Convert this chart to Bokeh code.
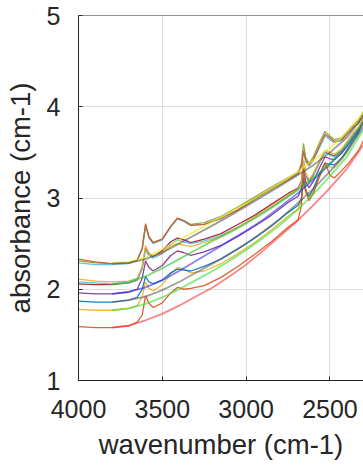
from bokeh.plotting import figure
from bokeh.models import Range1d, FixedTicker, Span
from bokeh.embed import file_html
from bokeh.resources import INLINE

# wavenumber grid of the measured spectra
wn = [4000, 3900, 3800, 3700, 3650, 3620, 3600, 3580, 3555, 3500, 3450, 3410, 3370, 3330,
      3250, 3150, 3050, 2950, 2850, 2750, 2690, 2670, 2658, 2645, 2625, 2600, 2560, 2530,
      2500, 2475, 2430, 2390, 2360, 2330, 2300]

spec_orange_top = [2.33, 2.30, 2.28, 2.29, 2.32, 2.45, 2.72, 2.58, 2.51, 2.55, 2.69, 2.78, 2.75, 2.70,
                   2.71, 2.78, 2.87, 2.99, 3.10, 3.20, 3.27, 3.36, 3.52, 3.42, 3.36, 3.42, 3.58, 3.70,
                   3.66, 3.62, 3.64, 3.72, 3.78, 3.82, 3.92]
spec_cyan_top = [2.29, 2.27, 2.27, 2.28, 2.31, 2.44, 2.70, 2.56, 2.50, 2.54, 2.68, 2.77, 2.74, 2.70,
                 2.71, 2.77, 2.87, 2.98, 3.09, 3.20, 3.26, 3.34, 3.50, 3.40, 3.35, 3.41, 3.56, 3.68,
                 3.64, 3.61, 3.63, 3.71, 3.77, 3.82, 3.92]
spec_green_top = [2.31, 2.29, 2.28, 2.29, 2.32, 2.44, 2.69, 2.57, 2.51, 2.55, 2.69, 2.78, 2.75, 2.71,
                  2.73, 2.80, 2.90, 3.01, 3.12, 3.22, 3.28, 3.38, 3.60, 3.45, 3.38, 3.45, 3.62, 3.73,
                  3.68, 3.64, 3.66, 3.74, 3.80, 3.85, 3.95]
spec_yellow_mid = [2.11, 2.09, 2.08, 2.09, 2.12, 2.25, 2.48, 2.40, 2.37, 2.40, 2.47, 2.50, 2.48, 2.47,
                   2.51, 2.58, 2.68, 2.79, 2.91, 3.03, 3.10, 3.18, 3.42, 3.28, 3.20, 3.27, 3.42, 3.52,
                   3.50, 3.48, 3.54, 3.64, 3.72, 3.78, 3.88]
spec_cyan_mid = [2.08, 2.07, 2.06, 2.07, 2.10, 2.22, 2.44, 2.37, 2.34, 2.39, 2.49, 2.54, 2.52, 2.50,
                 2.53, 2.59, 2.68, 2.79, 2.90, 3.02, 3.09, 3.16, 3.38, 3.24, 3.17, 3.24, 3.40, 3.50,
                 3.47, 3.45, 3.52, 3.62, 3.70, 3.77, 3.87]
spec_darkred_mid = [2.06, 2.05, 2.05, 2.07, 2.10, 2.24, 2.45, 2.38, 2.36, 2.42, 2.52, 2.56, 2.54, 2.51,
                    2.55, 2.61, 2.71, 2.81, 2.93, 3.05, 3.11, 3.19, 3.40, 3.25, 3.18, 3.25, 3.40, 3.50,
                    3.48, 3.46, 3.52, 3.62, 3.70, 3.76, 3.88]
spec_purple = [1.96, 1.95, 1.95, 1.97, 2.00, 2.12, 2.31, 2.24, 2.20, 2.26, 2.37, 2.42, 2.40, 2.37,
               2.41, 2.48, 2.58, 2.69, 2.81, 2.95, 3.02, 3.10, 3.32, 3.18, 3.11, 3.18, 3.34, 3.45,
               3.43, 3.42, 3.49, 3.59, 3.67, 3.74, 3.86]
spec_blue = [1.87, 1.86, 1.86, 1.88, 1.91, 2.00, 2.14, 2.08, 2.06, 2.10, 2.18, 2.22, 2.21, 2.20,
             2.25, 2.33, 2.44, 2.56, 2.69, 2.84, 2.92, 3.00, 3.22, 3.08, 3.02, 3.10, 3.27, 3.38,
             3.37, 3.36, 3.44, 3.55, 3.64, 3.72, 3.85]
spec_yellow_low = [1.78, 1.77, 1.77, 1.79, 1.82, 1.92, 2.08, 2.01, 1.98, 2.05, 2.17, 2.24, 2.22, 2.18,
                   2.20, 2.28, 2.39, 2.51, 2.65, 2.80, 2.88, 2.97, 3.18, 3.05, 2.99, 3.07, 3.24, 3.35,
                   3.34, 3.33, 3.42, 3.53, 3.62, 3.70, 3.84]
spec_orange_low = [1.59, 1.58, 1.58, 1.60, 1.64, 1.72, 1.93, 1.85, 1.80, 1.85, 1.96, 2.02, 2.00, 2.01,
                   2.04, 2.13, 2.25, 2.38, 2.52, 2.68, 2.76, 2.92, 3.33, 3.10, 2.97, 3.05, 3.25, 3.39,
                   3.25, 3.22, 3.30, 3.38, 3.45, 3.52, 3.63]

spectra = [
    (spec_yellow_low, "#EDB120"), (spec_blue, "#0072BD"), (spec_purple, "#7E2F8E"),
    (spec_darkred_mid, "#A2142F"), (spec_cyan_mid, "#4DBEEE"), (spec_yellow_mid, "#EDB120"),
    (spec_orange_low, "#D95319"), (spec_green_top, "#77AC30"), (spec_cyan_top, "#4DBEEE"),
    (spec_orange_top, "#D95319"),
]

# wavenumber grid of the fitted baselines
wn_base = [3800, 3700, 3600, 3500, 3400, 3300, 3200, 3100, 3000, 2900, 2800, 2700, 2600, 2500, 2400, 2300]
base_gray_top = [2.28, 2.29, 2.33, 2.40, 2.50, 2.60, 2.70, 2.80, 2.91, 3.02, 3.13, 3.24, 3.36, 3.50, 3.66, 3.90]
base_yellow_top = [2.29, 2.30, 2.35, 2.44, 2.54, 2.64, 2.74, 2.84, 2.94, 3.05, 3.16, 3.28, 3.41, 3.55, 3.72, 3.94]
base_green_mid = [2.06, 2.08, 2.14, 2.23, 2.33, 2.43, 2.53, 2.62, 2.72, 2.83, 2.95, 3.08, 3.22, 3.38, 3.57, 3.83]
base_blue_mid = [1.95, 1.97, 2.02, 2.10, 2.20, 2.31, 2.42, 2.53, 2.64, 2.76, 2.90, 3.04, 3.20, 3.37, 3.56, 3.82]
base_gray_low = [1.86, 1.88, 1.92, 1.99, 2.08, 2.18, 2.28, 2.39, 2.50, 2.63, 2.77, 2.93, 3.10, 3.29, 3.50, 3.78]
base_green_low = [1.77, 1.79, 1.84, 1.91, 2.00, 2.10, 2.20, 2.31, 2.43, 2.56, 2.70, 2.86, 3.04, 3.24, 3.45, 3.75]
base_red_low = [1.58, 1.60, 1.66, 1.73, 1.82, 1.92, 2.02, 2.14, 2.27, 2.42, 2.58, 2.74, 2.92, 3.11, 3.32, 3.58]

baselines = [
    (base_red_low, "#FF3030"), (base_green_low, "#30E030"), (base_gray_low, "#606060"),
    (base_blue_mid, "#3030FF"), (base_green_mid, "#22C022"), (base_yellow_top, "#E8E820"),
    (base_gray_top, "#5A5A4A"),
]

x_ticks = [4000, 3500, 3000, 2500]
y_ticks = [1, 2, 3, 4, 5]
x_lo, x_hi = 4000, 2300
y_lo, y_hi = 1, 5

FONT = "Liberation Sans"
TXT = "#262626"

p = figure(width=363, height=465, output_backend="svg", toolbar_location=None,
           x_range=Range1d(x_lo, x_hi), y_range=Range1d(y_lo, y_hi),
           min_border_left=78, min_border_right=0, min_border_top=15, min_border_bottom=85)
p.outline_line_color = None
p.background_fill_color = "white"
p.border_fill_color = "white"

for ax, ticks in ((p.xaxis[0], x_ticks), (p.yaxis[0], y_ticks)):
    ax.ticker = FixedTicker(ticks=ticks)
    ax.major_tick_in = 4
    ax.major_tick_out = 0
    ax.minor_tick_line_color = None
    ax.axis_line_color = TXT
    ax.major_tick_line_color = TXT
    ax.major_label_text_font = FONT
    ax.major_label_text_font_size = "25px"
    ax.major_label_text_color = TXT
    ax.axis_label_text_font = FONT
    ax.axis_label_text_font_size = "27.5px"
    ax.axis_label_text_font_style = "normal"
    ax.axis_label_text_color = TXT

p.xaxis.axis_label = "wavenumber (cm-1)"
p.yaxis.axis_label = "absorbance (cm-1)"
p.xaxis.major_label_standoff = 19
p.xaxis.axis_label_standoff = 8
p.yaxis.major_label_standoff = 18
p.yaxis.axis_label_standoff = 8

# top border of the box
p.add_layout(Span(location=y_hi, dimension="width", line_color=TXT, line_width=1))

p.xgrid.ticker = FixedTicker(ticks=x_ticks)
p.ygrid.ticker = FixedTicker(ticks=y_ticks)
p.grid.grid_line_color = "#DCDCDC"
p.grid.grid_line_width = 1

for ys, c in spectra:
    p.line(wn, ys, line_color=c, line_width=1.3, line_alpha=0.9)
for ys, c in baselines:
    p.line(wn_base, ys, line_color=c, line_width=1.8, line_alpha=0.6)

open("out.html", "w").write(file_html(p, INLINE))
